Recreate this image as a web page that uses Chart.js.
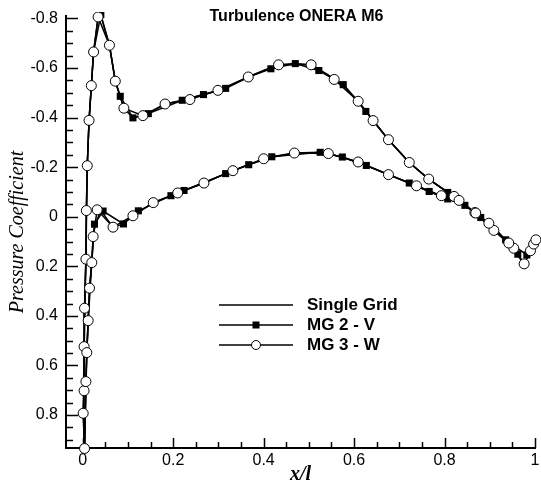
<!DOCTYPE html>
<html>
<head>
<meta charset="utf-8">
<script src="https://cdn.jsdelivr.net/npm/chart.js@4.4.0/dist/chart.umd.min.js"></script>
<style>
  html, body { margin: 0; padding: 0; background: #fff; }
</style>
</head>
<body>
<canvas id="cpChart" width="541" height="485"></canvas>
<script>
// upper surface from trailing edge to leading edge, then lower surface back
var singleX = [0.960, 0.935, 0.900, 0.867, 0.830, 0.807, 0.765, 0.722, 0.676, 0.642, 0.609, 0.576, 0.540, 0.505, 0.470, 0.433, 0.400, 0.366, 0.316, 0.267, 0.220, 0.182, 0.145, 0.111, 0.091, 0.072, 0.059, 0.040, 0.034, 0.024, 0.019, 0.014, 0.010, 0.008, 0.007, 0.004, 0.003, 0.002, 0.004, 0.007, 0.009, 0.012, 0.015, 0.020, 0.023, 0.028, 0.040, 0.067, 0.090, 0.111, 0.156, 0.195, 0.224, 0.268, 0.316, 0.367, 0.418, 0.468, 0.525, 0.574, 0.627, 0.676, 0.722, 0.766, 0.807, 0.845, 0.880, 0.920, 0.960, 0.976, 0.990, 1.000];
var singleCp = [0.150, 0.093, 0.040, -0.017, -0.072, -0.098, -0.152, -0.219, -0.311, -0.388, -0.466, -0.533, -0.575, -0.613, -0.618, -0.613, -0.590, -0.564, -0.518, -0.493, -0.470, -0.455, -0.416, -0.399, -0.438, -0.547, -0.692, -0.812, -0.806, -0.665, -0.529, -0.389, -0.206, -0.025, 0.171, 0.369, 0.524, 0.793, 0.935, 0.665, 0.548, 0.419, 0.288, 0.185, 0.080, 0.030, -0.025, 0.042, 0.029, -0.004, -0.057, -0.085, -0.106, -0.136, -0.174, -0.210, -0.242, -0.257, -0.260, -0.241, -0.207, -0.170, -0.136, -0.102, -0.072, -0.046, 0.003, 0.065, 0.151, 0.190, 0.137, 0.095];

var mg2X = [0.982, 0.935, 0.880, 0.807, 0.765, 0.722, 0.676, 0.626, 0.576, 0.522, 0.470, 0.416, 0.366, 0.316, 0.267, 0.220, 0.145, 0.111, 0.083, 0.072, 0.059, 0.040, 0.024, 0.014, 0.010, 0.007, 0.003, 0.001, 0.004, 0.009, 0.012, 0.020, 0.026, 0.045, 0.090, 0.123, 0.195, 0.224, 0.316, 0.367, 0.418, 0.525, 0.574, 0.627, 0.722, 0.766, 0.807, 0.845, 0.898, 0.942, 0.962, 0.976, 1.002];
var mg2Cp = [0.154, 0.093, 0.003, -0.098, -0.152, -0.219, -0.311, -0.425, -0.533, -0.590, -0.618, -0.597, -0.564, -0.518, -0.493, -0.470, -0.416, -0.399, -0.486, -0.547, -0.692, -0.816, -0.665, -0.389, -0.206, 0.171, 0.524, 0.793, 0.935, 0.548, 0.419, 0.185, 0.030, -0.023, 0.029, -0.024, -0.085, -0.106, -0.174, -0.210, -0.242, -0.260, -0.241, -0.207, -0.136, -0.102, -0.072, -0.046, 0.026, 0.106, 0.151, 0.190, 0.093];

var mg3X = [0.953, 0.909, 0.867, 0.821, 0.765, 0.722, 0.676, 0.642, 0.609, 0.556, 0.505, 0.433, 0.366, 0.299, 0.237, 0.182, 0.133, 0.091, 0.072, 0.059, 0.034, 0.024, 0.019, 0.014, 0.010, 0.008, 0.007, 0.004, 0.003, 0.003, 0.001, 0.004, 0.007, 0.009, 0.012, 0.015, 0.020, 0.023, 0.032, 0.067, 0.111, 0.156, 0.210, 0.268, 0.332, 0.400, 0.468, 0.543, 0.609, 0.676, 0.738, 0.793, 0.832, 0.869, 0.898, 0.942, 0.976, 0.990, 0.997, 1.002];
var mg3Cp = [0.127, 0.055, -0.017, -0.082, -0.152, -0.219, -0.311, -0.388, -0.466, -0.554, -0.613, -0.613, -0.564, -0.510, -0.473, -0.455, -0.408, -0.438, -0.547, -0.692, -0.806, -0.665, -0.529, -0.389, -0.206, -0.025, 0.171, 0.369, 0.524, 0.702, 0.793, 0.935, 0.665, 0.548, 0.419, 0.288, 0.185, 0.080, -0.028, 0.042, -0.004, -0.057, -0.096, -0.136, -0.186, -0.234, -0.257, -0.255, -0.221, -0.170, -0.125, -0.085, -0.066, -0.015, 0.026, 0.106, 0.190, 0.137, 0.110, 0.093];

var seriesNames = ["Single Grid", "MG 2 - V", "MG 3 - W"];
var chartTitle = "Turbulence ONERA M6";

function toPoints(xs, ys) {
    return xs.map(function (x, i) {
        return { x: x, y: ys[i] };
    });
}

function fmt(v) {
    return String(Math.round(v * 10) / 10);
}

var sansFont = "'Liberation Sans', Arial, sans-serif";
var serifFont = "'Liberation Serif', 'Times New Roman', serif";

// inward ticks, long at labelled values
var axisTicks = {
    id: "axisTicks",
    beforeDatasetsDraw: function (chart) {
        var ctx = chart.ctx;
        var area = chart.chartArea;
        ctx.save();
        ctx.strokeStyle = "#000";
        ctx.lineWidth = 1.5;
        chart.scales.x.ticks.forEach(function (t) {
            var px = Math.round(chart.scales.x.getPixelForValue(t.value)) + 0.5;
            var len = t.label !== "" ? 10 : 6;
            ctx.beginPath();
            ctx.moveTo(px, area.bottom);
            ctx.lineTo(px, area.bottom - len);
            ctx.stroke();
        });
        chart.scales.y.ticks.forEach(function (t) {
            var py = Math.round(chart.scales.y.getPixelForValue(t.value)) + 0.5;
            var len = t.label !== "" ? 12 : 7;
            ctx.beginPath();
            ctx.moveTo(area.left, py);
            ctx.lineTo(area.left + len, py);
            ctx.stroke();
        });
        ctx.restore();
    },
    afterDraw: function (chart) {
        var ctx = chart.ctx;
        var area = chart.chartArea;
        ctx.save();
        ctx.fillStyle = "#000";
        ctx.font = "bold 16px " + sansFont;
        ctx.textAlign = "center";
        ctx.textBaseline = "middle";
        ctx.fillText(chartTitle, (area.left + area.right) / 2 - 4, 17);

        // legend
        var x0 = 219, x1 = 293, ty = 305;
        chart.data.datasets.forEach(function (ds, i) {
            var y = ty + i * 20;
            ctx.strokeStyle = ds.borderColor;
            ctx.lineWidth = ds.borderWidth;
            ctx.beginPath();
            ctx.moveTo(x0, y);
            ctx.lineTo(x1, y);
            ctx.stroke();
            var mx = (x0 + x1) / 2;
            if (ds.pointStyle === "rect") {
                ctx.fillStyle = "#000";
                ctx.fillRect(mx - 3.5, y - 3.5, 7, 7);
            } else if (ds.pointRadius > 0) {
                ctx.beginPath();
                ctx.arc(mx, y, 4.5, 0, Math.PI * 2);
                ctx.fillStyle = "#fff";
                ctx.fill();
                ctx.lineWidth = 1;
                ctx.stroke();
            }
            ctx.fillStyle = "#000";
            ctx.font = "bold 17px " + sansFont;
            ctx.textAlign = "left";
            ctx.fillText(ds.label, 307, y);
        });
        ctx.restore();
    },
};

var ctx = document.getElementById("cpChart");
new Chart(ctx, {
    type: "line",
    data: {
        datasets: [
            {
                label: seriesNames[0],
                data: toPoints(singleX, singleCp),
                borderColor: "#000",
                borderWidth: 1.5,
                pointRadius: 0,
                order: 3,
            },
            {
                label: seriesNames[1],
                data: toPoints(mg2X, mg2Cp),
                borderColor: "#000",
                borderWidth: 1.5,
                pointStyle: "rect",
                pointRadius: 5,
                pointBackgroundColor: "#000",
                pointBorderWidth: 0,
                order: 2,
            },
            {
                label: seriesNames[2],
                data: toPoints(mg3X, mg3Cp),
                borderColor: "#000",
                borderWidth: 1.5,
                pointStyle: "circle",
                pointRadius: 5,
                pointBackgroundColor: "#fff",
                pointBorderColor: "#000",
                pointBorderWidth: 1,
                order: 1,
            },
        ],
    },
    options: {
        responsive: false,
        animation: false,
        clip: { left: 8, top: 4, right: 8, bottom: 8 },
        layout: { padding: { top: 16, right: 3, left: 0, bottom: 0 } },
        elements: { line: { tension: 0 } },
        plugins: {
            legend: { display: false },
            tooltip: { enabled: false },
        },
        scales: {
            x: {
                type: "linear",
                min: -0.037,
                max: 1.0,
                grid: { display: true, drawOnChartArea: false, drawTicks: false },
                border: { display: true, color: "#000", width: 2 },
                ticks: {
                    stepSize: 0.05,
                    autoSkip: false,
                    includeBounds: false,
                    maxRotation: 0,
                    padding: 3,
                    color: "#000",
                    font: { family: sansFont, size: 16 },
                    callback: function (v) {
                        return Math.round(v * 20) % 4 === 0 ? fmt(v) : "";
                    },
                },
                title: {
                    display: true,
                    text: "x/l",
                    color: "#000",
                    font: { family: serifFont, size: 20, style: "italic", weight: "bold", lineHeight: 1 },
                    padding: { top: 0, bottom: 0 },
                },
                afterFit: function (scale) {
                    scale.height = 37;
                    scale.paddingLeft = 0;
                    scale.paddingRight = 0;
                },
            },
            y: {
                type: "linear",
                reverse: true,
                min: -0.81,
                max: 0.933,
                grid: { display: true, drawOnChartArea: false, drawTicks: false },
                border: { display: true, color: "#000", width: 2 },
                ticks: {
                    stepSize: 0.05,
                    autoSkip: false,
                    includeBounds: false,
                    padding: 8,
                    color: "#000",
                    font: { family: sansFont, size: 16 },
                    callback: function (v) {
                        return Math.round(v * 20) % 4 === 0 ? fmt(v) : "";
                    },
                },
                title: {
                    display: true,
                    text: "Pressure Coefficient",
                    color: "#000",
                    font: { family: serifFont, size: 20, style: "italic" },
                    padding: { top: 6, bottom: 0 },
                },
                afterFit: function (scale) {
                    scale.width = 66;
                    scale.paddingTop = 0;
                    scale.paddingBottom = 0;
                },
            },
        },
    },
    plugins: [axisTicks],
});
</script>
</body>
</html>
